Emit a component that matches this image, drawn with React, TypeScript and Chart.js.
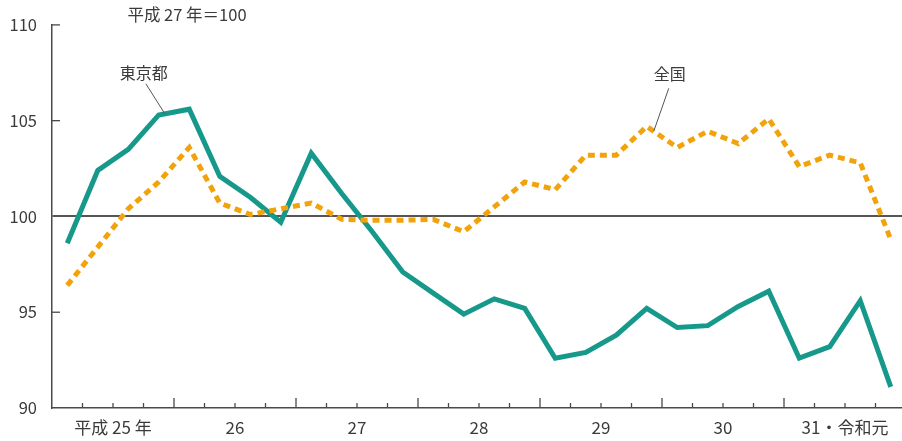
import React, { useEffect, useRef } from "react";
import { Chart, registerables } from "chart.js";

Chart.register(...registerables);

// ---- data ----
const years = ["平成 25 年", "26", "27", "28", "29", "30", "31・令和元"];
const quarters = ["Ⅰ", "Ⅱ", "Ⅲ", "Ⅳ"];
const quarterLabels = years.flatMap((y) => quarters.map((q) => `${y} ${q}`));
const tokyo = [
  98.6, 102.4, 103.5, 105.3, 105.6, 102.1, 101.0, 99.7, 103.3, 101.2, 99.2,
  97.1, 96.0, 94.9, 95.7, 95.2, 92.6, 92.9, 93.8, 95.2, 94.2, 94.3, 95.3, 96.1,
  92.6, 93.2, 95.6, 91.1,
];
const national = [
  96.4, 98.4, 100.4, 101.8, 103.6, 100.7, 100.1, 100.4, 100.7, 99.85, 99.8,
  99.8, 99.85, 99.2, 100.5, 101.8, 101.4, 103.2, 103.2, 104.7, 103.6, 104.45,
  103.8, 105.1, 102.6, 103.2, 102.8, 98.8,
];
const yTicks = [90, 95, 100, 105, 110];
const baseTitle = "平成 27 年＝100";
const tokyoName = "東京都";
const nationalName = "全国";

const FONT = '"Noto Sans CJK JP", "Noto Sans", sans-serif';
const TEXT = "#3a3a3a";
const AXIS = "#4a4a4a";
const GREEN = "#16998a";
const ORANGE = "#f2a30c";

const decor = {
  id: "decor",
  afterDraw(chart: any) {
    const { ctx, chartArea } = chart;
    const x = chart.scales.x;
    const y = chart.scales.y;
    ctx.save();
    // x tick marks (inward)
    ctx.strokeStyle = AXIS;
    ctx.lineWidth = 1.3;
    for (let i = 1; i < quarterLabels.length; i++) {
      const px = (x.getPixelForValue(i - 1) + x.getPixelForValue(i)) / 2;
      const len = i % 4 === 0 ? 10 : 5;
      ctx.beginPath();
      ctx.moveTo(px, chartArea.bottom);
      ctx.lineTo(px, chartArea.bottom - len);
      ctx.stroke();
    }
    // y tick marks (inward)
    for (const v of yTicks) {
      if (v === 90 || v === 100) continue;
      const py = y.getPixelForValue(v);
      ctx.beginPath();
      ctx.moveTo(chartArea.left, py);
      ctx.lineTo(chartArea.left + 8, py);
      ctx.stroke();
    }
    // title
    ctx.fillStyle = TEXT;
    ctx.font = `16.5px ${FONT}`;
    ctx.textAlign = "center";
    ctx.textBaseline = "middle";
    ctx.fillText(baseTitle, chartArea.left + 135, 15);

    // annotation helper: anchor on segment between i and i+1
    const anchor = (data: number[], i: number, f: number) => {
      const x0 = x.getPixelForValue(i);
      const x1 = x.getPixelForValue(i + 1);
      const y0 = y.getPixelForValue(data[i]);
      const y1 = y.getPixelForValue(data[i + 1]);
      return [x0 + (x1 - x0) * f, y0 + (y1 - y0) * f];
    };
    const label = (
      text: string,
      a: number[],
      lx: number,
      ly: number,
      tx: number,
      ty: number
    ) => {
      ctx.strokeStyle = "#555";
      ctx.lineWidth = 1;
      ctx.beginPath();
      ctx.moveTo(a[0] + lx, a[1] + ly);
      ctx.lineTo(a[0], a[1]);
      ctx.stroke();
      ctx.fillStyle = TEXT;
      ctx.font = `16px ${FONT}`;
      ctx.fillText(text, a[0] + tx, a[1] + ty);
    };
    label(tokyoName, anchor(tokyo, 3, 0.2), -19, -30, -21, -41);
    label(nationalName, anchor(national, 19, 0.23), 15, -43, 16, -57);
    ctx.restore();
  },
};

export default function App() {
  const ref = useRef<HTMLCanvasElement>(null);
  useEffect(() => {
    if (!ref.current) return;
    const chart = new Chart(ref.current, {
      type: "line",
      data: {
        labels: quarterLabels,
        datasets: [
          {
            label: nationalName,
            data: national,
            borderColor: ORANGE,
            borderWidth: 5,
            borderDash: [7, 5],
            pointRadius: 0,
            tension: 0,
            fill: false,
          },
          {
            label: tokyoName,
            data: tokyo,
            borderColor: GREEN,
            borderWidth: 5,
            pointRadius: 0,
            tension: 0,
            fill: false,
          },
        ],
      },
      options: {
        animation: false,
        responsive: false,
        layout: { padding: { top: 21, right: 0, left: 0, bottom: 0 } },
        plugins: {
          legend: { display: false },
          tooltip: { enabled: false },
          title: { display: false },
        },
        scales: {
          x: {
            type: "category",
            display: false,
            offset: true,
          },
          x2: {
            type: "category",
            labels: years,
            position: "bottom",
            offset: true,
            grid: { display: false, drawTicks: false },
            border: { display: true, color: AXIS, width: 1.5 },
            ticks: {
              color: TEXT,
              font: { family: FONT, size: 17 },
              padding: 9,
              autoSkip: false,
              maxRotation: 0,
            },
            afterFit: (s: any) => {
              s.height = 33;
            },
          },
          y: {
            min: 90,
            max: 110,
            afterBuildTicks: (s: any) => {
              s.ticks = yTicks.map((v) => ({ value: v }));
            },
            grid: {
              drawTicks: false,
              color: (c: any) =>
                c.tick && c.tick.value === 100 ? "#555" : "rgba(0,0,0,0)",
              lineWidth: 2,
            },
            border: { display: true, color: AXIS, width: 1.5 },
            ticks: {
              color: TEXT,
              font: { family: FONT, size: 16.5 },
              padding: 15,
            },
            afterFit: (s: any) => {
              s.width = 52;
            },
          },
        },
      },
      plugins: [decor],
    });
    return () => chart.destroy();
  }, []);
  return (
    <div
      style={{
        position: "absolute",
        left: 0,
        top: 0,
        width: 902,
        height: 441,
        overflow: "hidden",
        background: "#fff",
      }}
    >
      <canvas
        ref={ref}
        width={906}
        height={441}
        style={{ width: 906, height: 441, display: "block" }}
      />
    </div>
  );
}
